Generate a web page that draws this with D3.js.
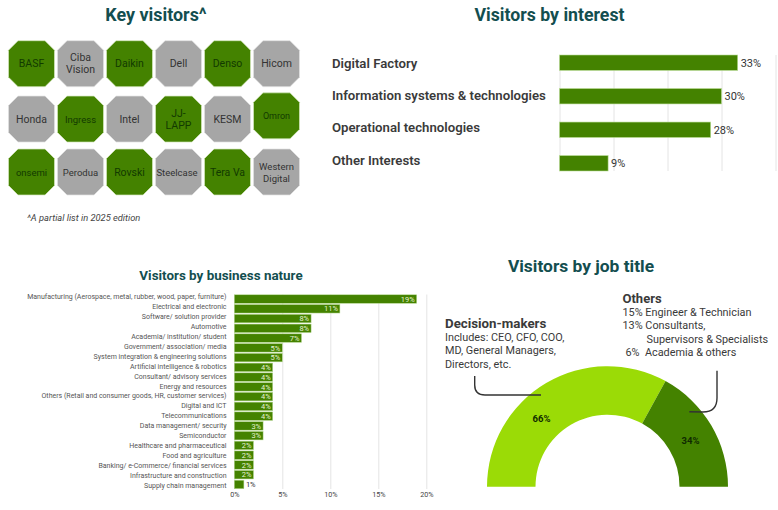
<!DOCTYPE html>
<html>
<head>
<meta charset="utf-8">
<script src="https://d3js.org/d3.v7.min.js"></script>
<style>
  html, body { margin: 0; padding: 0; background: #fff; }
  svg { display: block; font-family: Roboto, sans-serif; }
</style>
</head>
<body>
<svg id="vis" width="778" height="510"></svg>
<script>
  var visitorNames = ['BASF', 'Ciba\nVision', 'Daikin', 'Dell', 'Denso', 'Hicom',
    'Honda', 'Ingress', 'Intel', 'JJ-\nLAPP', 'KESM', 'Omron',
    'onsemi', 'Perodua', 'Rovski', 'Steelcase', 'Tera Va', 'Western\nDigital'];
  var visitorGreen = [1, 0, 1, 0, 1, 0,
    0, 1, 0, 1, 0, 1,
    1, 0, 1, 0, 1, 0];

  var interestNames = ['Digital Factory', 'Information systems & technologies', 'Operational technologies', 'Other Interests'];
  var interestValues = [33, 30, 28, 9];

  var natureNames = ['Manufacturing (Aerospace, metal, rubber, wood, paper, furniture)', 'Electrical and electronic',
    'Software/ solution provider', 'Automotive', 'Academia/ institution/ student', 'Government/ association/ media',
    'System integration & engineering solutions', 'Artificial intelligence & robotics', 'Consultant/ advisory services',
    'Energy and resources', 'Others (Retail and consumer goods, HR, customer services)', 'Digital and ICT',
    'Telecommunications', 'Data management/ security', 'Semiconductor', 'Healthcare and pharmaceutical',
    'Food and agriculture', 'Banking/ e-Commerce/ financial services', 'Infrastructure and construction', 'Supply chain management'];
  var natureValues = [19, 11, 8, 8, 7, 5, 5, 4, 4, 4, 4, 4, 4, 3, 3, 2, 2, 2, 2, 1];
  var natureTicks = [0, 5, 10, 15, 20];

  var jobNames = ['Decision-makers', 'Others'];
  var jobValues = [66, 34];

  var green = '#448200', lime = '#9bdb06', gray = '#a6a6a6', edge = '#b9dc94';
  var titleColor = '#134e4f', inkColor = '#3a3a3a';

  var svg = d3.select('#vis');

  function title(x, y, size, str) {
    svg.append('text').attr('x', x).attr('y', y).attr('text-anchor', 'middle')
      .attr('font-size', size).attr('font-weight', 700).attr('fill', titleColor).text(str);
  }

  // key visitors
  title(156, 21, 17.9, 'Key visitors^');

  var colScale = d3.scaleLinear().domain([0, 5]).range([31.5, 276.5]);
  var rowScale = d3.scaleLinear().domain([0, 2]).range([63.7, 172]);
  var octR = 23, octCut = 9.5;
  var octPts = [[-octR + octCut, -octR], [octR - octCut, -octR], [octR, -octR + octCut], [octR, octR - octCut],
    [octR - octCut, octR], [-octR + octCut, octR], [-octR, octR - octCut], [-octR, -octR + octCut]];

  var smallNames = ['Steelcase', 'onsemi', 'Ingress', 'Western\nDigital', 'Perodua'];

  var tile = svg.selectAll('g.tile').data(visitorNames).enter().append('g')
    .attr('class', 'tile')
    .attr('transform', function(d, i) {
      var dy = d === 'Omron' ? -2 : (i >= 6 && i < 12 ? 1.2 : 0);
      return 'translate(' + colScale(i % 6) + ',' + (rowScale(Math.floor(i / 6)) + dy) + ')';
    });
  tile.append('polygon')
    .attr('points', octPts.join(' '))
    .attr('fill', function(d, i) { return visitorGreen[i] ? green : gray; })
    .attr('stroke', function(d, i) { return visitorGreen[i] ? '#d5e8bf' : '#e2e2e2'; })
    .attr('stroke-width', 0.7);
  tile.append('text')
    .attr('text-anchor', 'middle')
    .attr('font-size', function(d) { return d === 'Omron' ? 9 : smallNames.indexOf(d) >= 0 ? 9.5 : 10.5; })
    .attr('fill', function(d, i) { return visitorGreen[i] ? '#123a00' : '#333'; })
    .each(function(d) {
      var lines = d.split('\n');
      var el = d3.select(this);
      lines.forEach(function(line, k) {
        el.append('tspan').attr('x', d === 'Steelcase' ? -1.5 : 0)
          .attr('y', (k - (lines.length - 1) / 2) * 12 + 3.5)
          .text(line);
      });
    });
  svg.append('text').attr('x', 27).attr('y', 221).attr('font-size', 9.3).attr('font-style', 'italic')
    .attr('fill', '#444').text('^A partial list in 2025 edition');

  // visitors by interest
  title(549.5, 21, 17.7, 'Visitors by interest');

  var interestX = d3.scaleLinear().domain([0, 40]).range([559.5, 775.5]);
  var interestY = d3.scaleBand().domain(interestNames).range([55, 171]).paddingInner(0.54).paddingOuter(0);
  var interestLabelY = d3.scalePoint().domain(interestNames).range([63, 160]);

  svg.append('g').attr('transform', 'translate(0,171)')
    .call(d3.axisBottom(interestX).tickValues([0, 10, 20, 30, 40]).tickSize(-116).tickFormat(''))
    .call(function(g) {
      g.select('.domain').remove();
      g.selectAll('line').attr('stroke', '#e4e4e4');
    });

  svg.append('g')
    .selectAll('rect').data(interestValues).enter().append('rect')
    .attr('x', interestX(0))
    .attr('y', function(d, i) { return interestY(interestNames[i]); })
    .attr('width', function(d) { return interestX(d) - interestX(0); })
    .attr('height', interestY.bandwidth())
    .attr('fill', green).attr('stroke', edge).attr('stroke-width', 0.6);

  svg.selectAll('text.intval').data(interestValues).enter().append('text')
    .attr('class', 'intval')
    .attr('x', function(d) { return interestX(d) + 3; })
    .attr('y', function(d, i) { return interestY(interestNames[i]) + interestY.bandwidth() / 2 + 4; })
    .attr('font-size', 11).attr('fill', '#333')
    .text(function(d) { return d + '%'; });

  svg.selectAll('text.intname').data(interestNames).enter().append('text')
    .attr('class', 'intname')
    .attr('x', 332)
    .attr('y', function(d) { return interestLabelY(d) + 4.5; })
    .attr('font-size', 13.2).attr('font-weight', 600).attr('fill', inkColor)
    .text(function(d) { return d; });

  // visitors by business nature
  title(221, 280, 13.4, 'Visitors by business nature');

  var natureX = d3.scaleLinear().domain([0, 20]).range([234.3, 426.3]);
  var natureY = d3.scaleBand().domain(natureNames).range([294.5, 489]).paddingInner(0.13).paddingOuter(0.03);
  var natureLabelY = d3.scalePoint().domain(natureNames).range([296.3, 485.7]);

  svg.append('g').attr('transform', 'translate(0,489)')
    .call(d3.axisBottom(natureX).tickValues(natureTicks).tickSize(-194.5).tickPadding(3)
      .tickFormat(function(d) { return d + '%'; }))
    .call(function(g) {
      g.select('.domain').remove();
      g.selectAll('line').attr('stroke', '#e4e4e4');
      g.selectAll('text').attr('font-size', 7.2).attr('font-family', 'Roboto, sans-serif').attr('fill', '#444');
    });

  svg.append('g').selectAll('rect').data(natureValues).enter().append('rect')
    .attr('x', natureX(0))
    .attr('y', function(d, i) { return natureY(natureNames[i]); })
    .attr('width', function(d) { return natureX(d) - natureX(0); })
    .attr('height', natureY.bandwidth())
    .attr('fill', green).attr('stroke', edge).attr('stroke-width', 0.5);

  svg.selectAll('text.natname').data(natureNames).enter().append('text')
    .attr('class', 'natname')
    .attr('x', 226.5)
    .attr('y', function(d) { return natureLabelY(d) + 2.5; })
    .attr('text-anchor', 'end').attr('font-size', 7).attr('fill', '#555')
    .text(function(d) { return d; });

  svg.selectAll('text.natval').data(natureValues).enter().append('text')
    .attr('class', 'natval')
    .attr('x', function(d) { return d > 1 ? natureX(d) - 2 : natureX(d) + 2; })
    .attr('y', function(d, i) { return natureY(natureNames[i]) + natureY.bandwidth() / 2 + 2.7; })
    .attr('text-anchor', function(d) { return d > 1 ? 'end' : 'start'; })
    .attr('font-size', 7.5)
    .attr('fill', function(d) { return d > 1 ? '#e6f2d5' : '#333'; })
    .text(function(d) { return d + '%'; });

  // visitors by job title
  title(581, 272, 17.4, 'Visitors by job title');

  var gauge = svg.append('g').attr('transform', 'translate(607.5,486.7)');
  var pie = d3.pie().sort(null).startAngle(-Math.PI / 2).endAngle(Math.PI / 2);
  var arc = d3.arc().innerRadius(72).outerRadius(120.5);
  var slices = pie(jobValues);

  gauge.selectAll('path').data(slices).enter().append('path')
    .attr('d', arc)
    .attr('fill', function(d, i) { return i === 0 ? lime : green; });

  // labels sit off the slice centroids in the original
  var labelAngle = d3.scaleOrdinal().domain(jobNames).range([-44, 61]);
  gauge.selectAll('text').data(slices).enter().append('text')
    .attr('transform', function(d, i) {
      var a = labelAngle(jobNames[i]) * Math.PI / 180;
      return 'translate(' + (95 * Math.sin(a)) + ',' + (-95 * Math.cos(a) + 3.5) + ')';
    })
    .attr('text-anchor', 'middle').attr('font-size', 9.5).attr('font-weight', 700).attr('fill', '#0f2a00')
    .text(function(d) { return d.value + '%'; });

  function note(x, y, size, weight, str) {
    svg.append('text').attr('x', x).attr('y', y).attr('font-size', size)
      .attr('font-weight', weight).attr('fill', inkColor).text(str);
  }
  note(445, 328, 13.3, 700, jobNames[0]);
  note(445, 341, 10.85, 400, 'Includes: CEO, CFO, COO,');
  note(445, 354, 10.85, 400, 'MD, General Managers,');
  note(445, 368, 10.85, 400, 'Directors, etc.');
  note(622.5, 303, 13, 700, jobNames[1]);
  note(622.5, 316, 10.85, 400, '15% Engineer & Technician');
  note(622.5, 329, 10.85, 400, '13% Consultants,');
  note(646.5, 343, 10.85, 400, 'Supervisors & Specialists');
  note(625.5, 356, 10.85, 400, '6%\u00a0 Academia & others');

  // connectors
  var leftLine = d3.path();
  leftLine.moveTo(474.7, 376);
  leftLine.lineTo(474.7, 385);
  leftLine.quadraticCurveTo(474.7, 395, 485, 395);
  leftLine.lineTo(541, 395);
  var rightLine = d3.path();
  rightLine.moveTo(717, 370.7);
  rightLine.lineTo(717, 398);
  rightLine.quadraticCurveTo(717, 412, 703, 412);
  rightLine.lineTo(689.3, 411.7);
  svg.selectAll('path.link').data([leftLine, rightLine]).enter().append('path')
    .attr('class', 'link')
    .attr('d', function(d) { return d.toString(); })
    .attr('fill', 'none').attr('stroke', '#333').attr('stroke-width', 1.4);
</script>
</body>
</html>
